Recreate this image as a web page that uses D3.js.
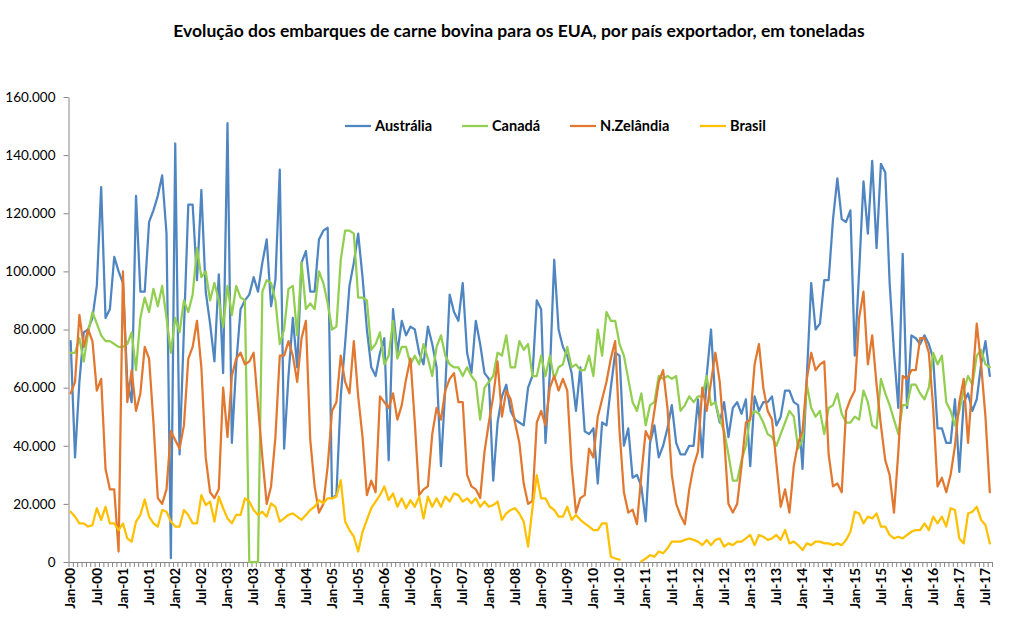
<!DOCTYPE html>
<html><head><meta charset="utf-8">
<script src="https://cdn.jsdelivr.net/npm/d3@7"></script>
<style>
html,body{margin:0;padding:0;background:#fff;}
svg{display:block;font-family:Lato,"Open Sans",sans-serif;}
</style></head>
<body>
<svg id="chart" width="1013" height="632"></svg>
<script>
// ---- data (thousand tonnes), monthly Jan-2000 .. Aug-2017 ----
const years = d3.range(2000, 2018);
const monthNames = ["Jan","Fev","Mar","Abr","Mai","Jun","Jul","Ago","Set","Out","Nov","Dez"];
const categories = [];
years.forEach(y => monthNames.forEach(m => { if (categories.length < 212) categories.push(m + "-" + String(y).slice(2)); }));

const tickLabels = ["Jan-00","Jul-00","Jan-01","Jul-01","Jan-02","Jul-02","Jan-03","Jul-03","Jan-04","Jul-04",
  "Jan-05","Jul-05","Jan-06","Jul-06","Jan-07","Jul-07","Jan-08","Jul-08","Jan-09","Jul-09",
  "Jan-10","Jul-10","Jan-11","Jul-11","Jan-12","Jul-12","Jan-13","Jul-13","Jan-14","Jul-14",
  "Jan-15","Jul-15","Jan-16","Jul-16","Jan-17","Jul-17"];

const yTicks = [0, 20, 40, 60, 80, 100, 120, 140, 160];

const australia = [
  76, 36, 62, 79, 80, 84, 95, 129, 84, 87, 105, 100,
  96, 62, 55, 126, 93, 93, 117, 121, 126, 133, 113, 1.3,
  144, 37, 80, 123, 123, 97, 128, 93, 82, 69, 99, 65,
  151, 41, 68, 87, 90, 92, 98, 93, 103, 111, 88, 97,
  135, 39, 64, 84, 67, 103, 107, 93, 93, 111, 114, 115,
  22, 23, 57, 75, 95, 103, 113, 98, 80, 67, 64, 72,
  77, 35, 87, 72, 83, 78, 81, 80, 72, 68, 81, 75,
  67, 33, 60, 92, 86, 83, 96, 72, 65, 83, 75, 65,
  63, 28, 48, 57, 61, 52, 49, 48, 47, 60, 64, 90,
  87, 41, 65, 104, 80, 74, 71, 65, 52, 67, 45, 44,
  46, 27, 48, 47, 60, 72, 71, 40, 46, 29, 30, 26,
  14, 41, 47, 36, 40, 46, 54, 41, 37, 37, 40, 40,
  56, 36, 64, 80, 55, 48, 55, 43, 53, 55, 51, 56,
  33, 57, 52, 55, 55, 57, 47, 50, 59, 59, 55, 54,
  32, 64, 96, 80, 82, 97, 97, 118, 132, 118, 117, 121,
  71, 100, 131, 113, 138, 108, 137, 134, 96, 72, 53, 106,
  53, 78, 77, 75, 78, 75, 70, 46, 46, 41, 41, 56,
  31, 55, 58, 52, 56, 68, 76, 64];

const canada = [
  72, 72, 77, 69, 79, 86, 82, 78, 76, 76, 75, 74,
  74, 75, 79, 66, 84, 91, 86, 94, 88, 95, 84, 72,
  84, 79, 90, 86, 92, 108, 98, 100, 90, 96, 90, 81,
  95, 85, 95, 91, 90, 0, 0, 0, 93, 97, 96, 90,
  75, 80, 94, 95, 78, 103, 87, 89, 87, 100, 96, 89,
  80, 81, 104, 114, 114, 113, 91, 91, 90, 73, 75, 79,
  68, 71, 83, 70, 74, 74, 68, 71, 68, 75, 70, 64,
  74, 78, 71, 68, 67, 67, 64, 67, 64, 62, 49, 60,
  62, 64, 72, 71, 78, 67, 67, 76, 73, 75, 64, 64,
  71, 64, 71, 63, 67, 68, 74, 67, 68, 66, 66, 71,
  64, 80, 71, 86, 83, 83, 75, 71, 63, 55, 52, 58,
  47, 54, 55, 64, 63, 64, 63, 64, 52, 54, 57, 55,
  57, 57, 64, 54, 55, 49, 45, 37, 28, 28, 35, 40,
  50, 52, 51, 48, 44, 43, 40, 44, 48, 52, 50, 39,
  42, 61, 53, 50, 52, 44, 53, 54, 58, 51, 48, 48,
  50, 49, 59, 55, 47, 46, 63, 58, 54, 49, 44, 54,
  54, 61, 61, 58, 56, 60, 72, 68, 71, 55, 52, 47,
  52, 59, 64, 61, 71, 73, 68, 67];

const nzelandia = [
  58, 62, 85, 74, 80, 76, 59, 63, 32, 25, 25, 3.6,
  100, 55, 66, 52, 58, 74, 70, 48, 22, 20, 25, 45,
  42, 39, 47, 70, 74, 83, 67, 36, 24, 22, 25, 60,
  43, 64, 70, 72, 68, 69, 72, 54, 36, 20, 26, 43,
  71, 71, 76, 71, 62, 77, 83, 42, 26, 17, 20, 33,
  52, 55, 71, 62, 58, 76, 57, 43, 23, 28, 24, 57,
  55, 53, 58, 49, 54, 63, 70, 48, 23, 25, 26, 44,
  53, 49, 59, 63, 65, 55, 55, 30, 26, 25, 22, 38,
  48, 57, 69, 50, 59, 56, 48, 41, 27, 20, 21, 48,
  52, 47, 60, 64, 59, 63, 59, 33, 17, 22, 23, 39,
  36, 50, 56, 62, 70, 76, 45, 24, 17, 18, 13, 30,
  45, 42, 52, 62, 66, 53, 30, 20, 16, 13, 25, 33,
  38, 60, 52, 62, 72, 62, 43, 20, 17, 20, 33, 48,
  49, 68, 75, 60, 52, 49, 34, 19, 25, 17, 33, 41,
  45, 63, 72, 66, 68, 69, 37, 26, 27, 24, 52, 56,
  59, 84, 93, 68, 78, 61, 47, 35, 30, 17, 38, 64,
  63, 66, 66, 77, 77, 72, 53, 26, 29, 24, 30, 40,
  55, 63, 41, 62, 82, 68, 50, 24];

const brasil = [
  17.3, 15.6, 13.3, 13.3, 12.2, 12.7, 18.5, 14.5, 19, 13.3, 13.3, 11,
  13.3, 8.1, 7, 13.9, 16.2, 21.5, 15.6, 13.3, 12.2, 17.9, 17.3, 13.9,
  12.2, 12.2, 17.9, 16.2, 13.3, 13.3, 23, 19.6, 20.8, 13.9, 22.5, 18.5,
  15, 13.3, 16.2, 16.2, 21.9, 20.8, 17.9, 16.2, 17.3, 15.6, 20.2, 19,
  13.9, 15, 16.2, 16.7, 15.6, 14.5, 16.2, 17.9, 19, 21.3, 20.2, 21.9,
  21.9, 22.5, 28.2, 13.9, 11, 8.7, 3.6, 10.4, 14.5, 18.5, 20.8, 23,
  26, 21.3, 23.6, 19, 21.9, 18.5, 21.3, 19, 22.5, 15, 22.5, 19,
  21.9, 19, 22.5, 20.8, 23.6, 23, 20.8, 21.9, 20.2, 21.9, 19, 20.8,
  19, 19.6, 20.8, 14.5, 16.7, 17.9, 18.5, 16.7, 13.9, 5.3, 18.5, 29.9,
  21.9, 21.9, 19, 17.9, 15.6, 15.6, 19, 14.5, 16.2, 14.5, 13.3, 12.2,
  11, 11, 13.3, 13.3, 1.8, 1.2, 0.8, null, null, null, null, 0.2,
  1.2, 2.4, 1.8, 3.6, 3, 4.7, 7, 7, 7, 7.6, 8.1, 7.6,
  7, 5.8, 7.6, 5.8, 7.6, 8.1, 5.3, 6.4, 5.8, 7, 7, 8.1,
  9.3, 5.8, 9.3, 8.7, 7.6, 8.1, 9.3, 7.6, 11, 6.4, 7, 5.8,
  4.1, 6.4, 5.8, 7, 7, 6.4, 6.4, 5.8, 6.4, 5.8, 7.6, 10.4,
  17.3, 16.7, 13.3, 15.6, 15, 16.7, 12.2, 12.2, 9.3, 8.1, 8.7, 8.1,
  9.3, 10.4, 11, 11, 13.3, 11, 15.6, 13.3, 15.6, 12.2, 18.5, 17.9,
  8.1, 6.4, 16.7, 17.3, 19, 14.5, 12.7, 6.4];

const seriesNames = ["Austrália", "Canadá", "N.Zelândia", "Brasil"];
const seriesData = [australia, canada, nzelandia, brasil];
const seriesColors = ["#4F86C2", "#92CF50", "#E2782F", "#FFC000"];

// ---- layout ----
const svg = d3.select("#chart");
const L = 68.5, R = 992, T = 97, B = 562;

const x = d3.scaleBand().domain(d3.range(categories.length)).range([L, R]);
const xc = i => x(i) + x.bandwidth() / 2;
const xb = d3.scaleLinear().domain([0, categories.length]).range([L, R]);
const y = d3.scaleLinear().domain([0, 160]).range([B, T]);

// title
svg.append("text").attr("x", 519).attr("y", 37).attr("text-anchor", "middle")
  .style("font-size", "17.5px").style("font-weight", "bold").attr("fill", "#000")
  .text("Evolução dos embarques de carne bovina para os EUA, por país exportador, em toneladas");

// y axis
const fmtY = d => d === 0 ? "0" : d3.format(",")(d * 1000).replace(/,/g, ".");
const gy = svg.append("g").attr("transform", `translate(${L},0)`)
  .call(d3.axisLeft(y).tickValues(yTicks).tickFormat(fmtY).tickSizeInner(5).tickSizeOuter(0).tickPadding(8));
gy.select(".domain").attr("stroke", "#868686");
gy.selectAll(".tick line").attr("stroke", "#868686");
gy.selectAll(".tick text").style("font-size", "13.5px").attr("fill", "#000").style("font-family", "Lato, sans-serif");

// x axis: tick marks between categories
const gxt = svg.append("g").attr("transform", `translate(0,${B})`)
  .call(d3.axisBottom(xb).tickValues(d3.range(0, categories.length + 1)).tickFormat("").tickSizeInner(5).tickSizeOuter(0));
gxt.select(".domain").attr("stroke", "#868686");
gxt.selectAll(".tick line").attr("stroke", "#868686");

// x axis labels every 6 months
const labelIdx = tickLabels.map((t, k) => k * 6);
const gx = svg.append("g").attr("transform", `translate(0,${B})`)
  .call(d3.axisBottom(x).tickValues(labelIdx).tickFormat((d, k) => tickLabels[k]).tickSize(0));
gx.select(".domain").remove();
gx.selectAll(".tick text")
  .attr("transform", "rotate(-90)").attr("x", -6).attr("y", 0).attr("dy", "0.35em")
  .style("text-anchor", "end").style("font-size", "13.5px").style("font-weight", "bold")
  .style("font-family", "Lato, sans-serif").attr("fill", "#000");

// lines
const line = d3.line().defined(d => d != null).x((d, i) => xc(i)).y(d => y(d));
seriesData.forEach((arr, s) => {
  svg.append("path").datum(arr).attr("d", line)
    .attr("fill", "none").attr("stroke", seriesColors[s]).attr("stroke-width", 2.25)
    .attr("stroke-linejoin", "round").attr("stroke-linecap", "round");
});

// legend
const legendX = [345, 462, 570, 700];
const ly = 126;
seriesNames.forEach((n, s) => {
  const g = svg.append("g").attr("transform", `translate(${legendX[s]},${ly})`);
  g.append("line").attr("x1", 0).attr("x2", 26).attr("y1", 0).attr("y2", 0)
    .attr("stroke", seriesColors[s]).attr("stroke-width", 2.25);
  g.append("text").attr("x", 30).attr("y", 0).attr("dy", "0.35em")
    .style("font-size", "14.5px").style("font-weight", "bold").attr("fill", "#000").text(n);
});
</script>
</body></html>
